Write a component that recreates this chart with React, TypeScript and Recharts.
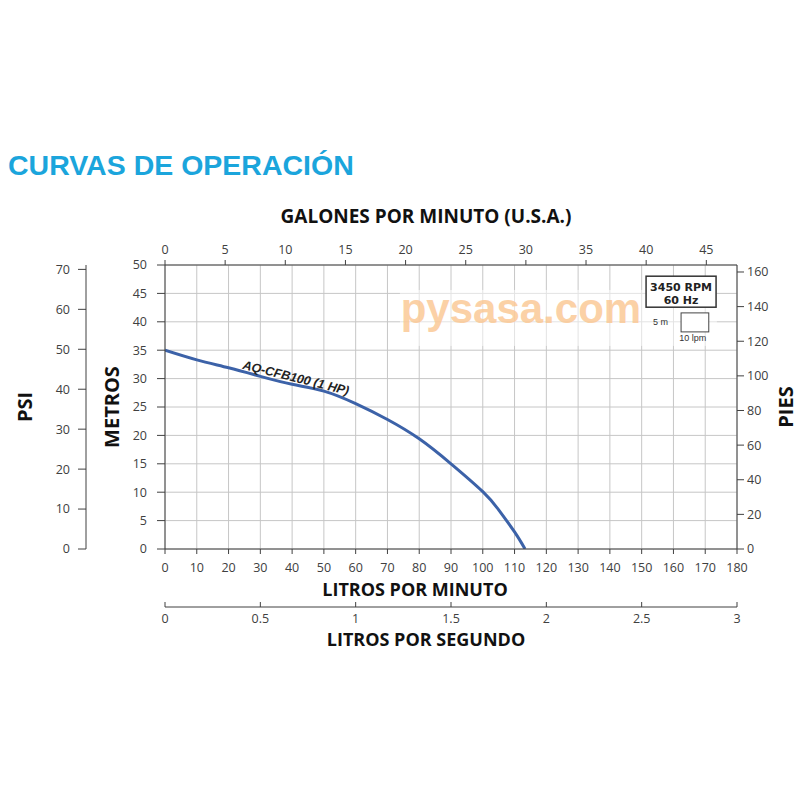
import React from 'react';
import {
  ComposedChart, Line, XAxis, YAxis, CartesianGrid, ReferenceDot,
} from 'recharts';

// Curve AQ-CFB100 (1 HP): flow (litros por minuto) vs head (metros)
const lpmFlow = [0, 10, 20, 30, 40, 50, 60, 70, 80, 90, 100, 105, 110, 113.3];
const headM = [35, 33.3, 31.9, 30.4, 29.0, 27.8, 25.6, 22.8, 19.4, 15.0, 10.1, 6.9, 3.0, 0];

const lpmTicks = [0, 10, 20, 30, 40, 50, 60, 70, 80, 90, 100, 110, 120, 130, 140, 150, 160, 170, 180];
const gpmTicks = [0, 5, 10, 15, 20, 25, 30, 35, 40, 45];
const lpsTicks = [0, 0.5, 1, 1.5, 2, 2.5, 3];
const mTicks = [0, 5, 10, 15, 20, 25, 30, 35, 40, 45, 50];
const psiTicks = [0, 10, 20, 30, 40, 50, 60, 70];
const ftTicks = [0, 20, 40, 60, 80, 100, 120, 140, 160];

const LPM_MAX = 180;
const M_MAX = 50;
const GPM_MAX = LPM_MAX / 3.78541;
const LPS_MAX = LPM_MAX / 60;
const PSI_MAX = M_MAX * 1.42197;
const FT_MAX = M_MAX * 3.28084;

const data = lpmFlow.map((x, i) => ({ lpm: x, m: headM[i] }));

const TICK_FONT = { fontSize: 12.5, fill: '#404040', fontFamily: 'Open Sans' };
const AXIS_COLOR = '#404040';
const TITLE_STYLE = { fontFamily: 'Open Sans', fontWeight: 700, fontSize: 18, fill: '#111' } as const;
const VTITLE_FS = 20;

const hTitle = (text: string, dx: number, baseline: number, fs = 18) => (props: any) => {
  const vb = props.viewBox || {};
  return (
    <text x={vb.x + vb.width / 2 + dx} y={vb.y + baseline} textAnchor="middle" style={{ ...TITLE_STYLE, fontSize: fs }}>
      {text}
    </text>
  );
};

// rotated title: capsCenterOff = x of the centre of the capital letters, relative to the axis box
const vTitle = (text: string, capsCenterOff: number) => (props: any) => {
  const vb = props.viewBox || {};
  const bx = vb.x + capsCenterOff + 0.357 * VTITLE_FS;
  const cy = vb.y + vb.height / 2;
  return (
    <text x={bx} y={cy} textAnchor="middle" transform={`rotate(-90, ${bx}, ${cy})`} style={{ ...TITLE_STYLE, fontSize: VTITLE_FS }}>
      {text}
    </text>
  );
};

const CurveLabel = (p: any) => (
  <text
    x={p.cx}
    y={p.cy}
    textAnchor="middle"
    dominantBaseline="central"
    transform={`rotate(14, ${p.cx}, ${p.cy})`}
    style={{ fontFamily: 'Liberation Sans', fontWeight: 700, fontStyle: 'italic', fontSize: 12.5, fill: '#222' }}
  >
    AQ-CFB100 (1 HP)
  </text>
);

const Watermark = (p: any) => (
  <g>
    <rect x={p.cx - 121} y={p.cy - 33} width={317} height={56} fill="#fff" opacity={0.5} />
    <text x={p.cx} y={p.cy} textAnchor="middle" style={{ fontFamily: 'Liberation Sans', fontWeight: 700, fontSize: 42, fill: '#fbc690', opacity: 0.8 }}>
      pysasa.com
    </text>
  </g>
);

const RpmBox = (p: any) => (
  <g>
    <rect x={p.cx - 35} y={p.cy - 15.5} width={70} height={31} fill="#fff" stroke="#333" strokeWidth={1.5} />
    <text x={p.cx} y={p.cy - 0.8} textAnchor="middle" style={{ fontFamily: 'DejaVu Sans', fontWeight: 700, fontSize: 11, fill: '#222' }}>3450 RPM</text>
    <text x={p.cx} y={p.cy + 12} textAnchor="middle" style={{ fontFamily: 'DejaVu Sans', fontWeight: 700, fontSize: 11, fill: '#222' }}>60 Hz</text>
    <rect x={p.cx} y={p.cy + 21.2} width={27.7} height={19} fill="#fff" stroke="#444" strokeWidth={1} />
    <text x={p.cx - 13} y={p.cy + 33.5} textAnchor="end" style={{ fontFamily: 'Liberation Sans', fontSize: 9, fill: '#333' }}>5 m</text>
    <text x={p.cx + 11.6} y={p.cy + 49} textAnchor="middle" style={{ fontFamily: 'Liberation Sans', fontSize: 9, fill: '#333' }}>10 lpm</text>
  </g>
);

export default function App() {
  return (
    <div style={{ position: 'absolute', left: 0, top: 0, width: 800, height: 800, background: '#fff' }}>
      <div
        style={{
          position: 'absolute', left: 8, top: 151, fontFamily: 'Liberation Sans', fontWeight: 700,
          fontSize: 28.5, lineHeight: 1, color: '#1ba5dc', whiteSpace: 'nowrap',
        }}
      >
        CURVAS DE OPERACIÓN
      </div>
      <div style={{ position: 'absolute', left: 0, top: 0 }}>
        <ComposedChart width={800} height={660} data={data} margin={{ top: 200, right: 0, bottom: 0, left: 0 }}>
          <CartesianGrid xAxisId="lpm" yAxisId="m" stroke="#c6c6c6" strokeWidth={1} />
          <XAxis
            xAxisId="lpm" dataKey="lpm" type="number" orientation="bottom" domain={[0, LPM_MAX]} ticks={lpmTicks}
            interval={0} allowDataOverflow height={58} tickSize={5} tickMargin={9} tick={TICK_FONT}
            stroke={AXIS_COLOR} tickLine={{ stroke: AXIS_COLOR }}
            label={hTitle('LITROS POR MINUTO', -36, 47)}
          />
          <XAxis
            xAxisId="lps" dataKey="lpm" type="number" orientation="bottom" domain={[0, LPS_MAX]} ticks={lpsTicks}
            interval={0} allowDataOverflow height={53} tickSize={-5} tickMargin={12} tick={TICK_FONT}
            stroke={AXIS_COLOR} tickLine={{ stroke: AXIS_COLOR }}
            label={hTitle('LITROS POR SEGUNDO', -25, 39)}
          />
          <XAxis
            xAxisId="gpm" dataKey="lpm" type="number" orientation="top" domain={[0, GPM_MAX]} ticks={gpmTicks}
            interval={0} allowDataOverflow height={65} tickSize={5} tickMargin={6} tick={TICK_FONT}
            stroke={AXIS_COLOR} tickLine={{ stroke: AXIS_COLOR }}
            label={hTitle('GALONES POR MINUTO (U.S.A.)', -25, 23, 19)}
          />
          <YAxis
            yAxisId="m" type="number" orientation="left" domain={[0, M_MAX]} ticks={mTicks} interval={0}
            allowDataOverflow width={79} tickSize={8} tickMargin={10} tick={TICK_FONT}
            stroke={AXIS_COLOR} tickLine={{ stroke: AXIS_COLOR }}
            label={vTitle('METROS', 26)}
          />
          <YAxis
            yAxisId="psi" type="number" orientation="left" domain={[0, PSI_MAX]} ticks={psiTicks} interval={0}
            allowDataOverflow width={86} tickSize={8} tickMargin={8} tick={TICK_FONT}
            stroke={AXIS_COLOR} tickLine={{ stroke: AXIS_COLOR }}
            label={vTitle('PSI', 25)}
          />
          <YAxis
            yAxisId="ft" type="number" orientation="right" domain={[0, FT_MAX]} ticks={ftTicks} interval={0}
            allowDataOverflow width={63} tickSize={7} tickMargin={3} tick={TICK_FONT}
            stroke={AXIS_COLOR} tickLine={{ stroke: AXIS_COLOR }}
            label={vTitle('PIES', 49)}
          />
          <ReferenceDot xAxisId="lpm" yAxisId="m" x={112} y={39.8} r={0} shape={Watermark} ifOverflow="visible" />
          <ReferenceDot xAxisId="lpm" yAxisId="m" x={162.4} y={45.3} r={0} shape={RpmBox} ifOverflow="visible" />
          <Line
            xAxisId="lpm" yAxisId="m" dataKey="m" type="natural" stroke="#3c62a8" strokeWidth={3}
            dot={false} activeDot={false} isAnimationActive={false}
          />
          <ReferenceDot xAxisId="lpm" yAxisId="m" x={41.2} y={30.1} r={0} shape={CurveLabel} ifOverflow="visible" />
        </ComposedChart>
      </div>
    </div>
  );
}
